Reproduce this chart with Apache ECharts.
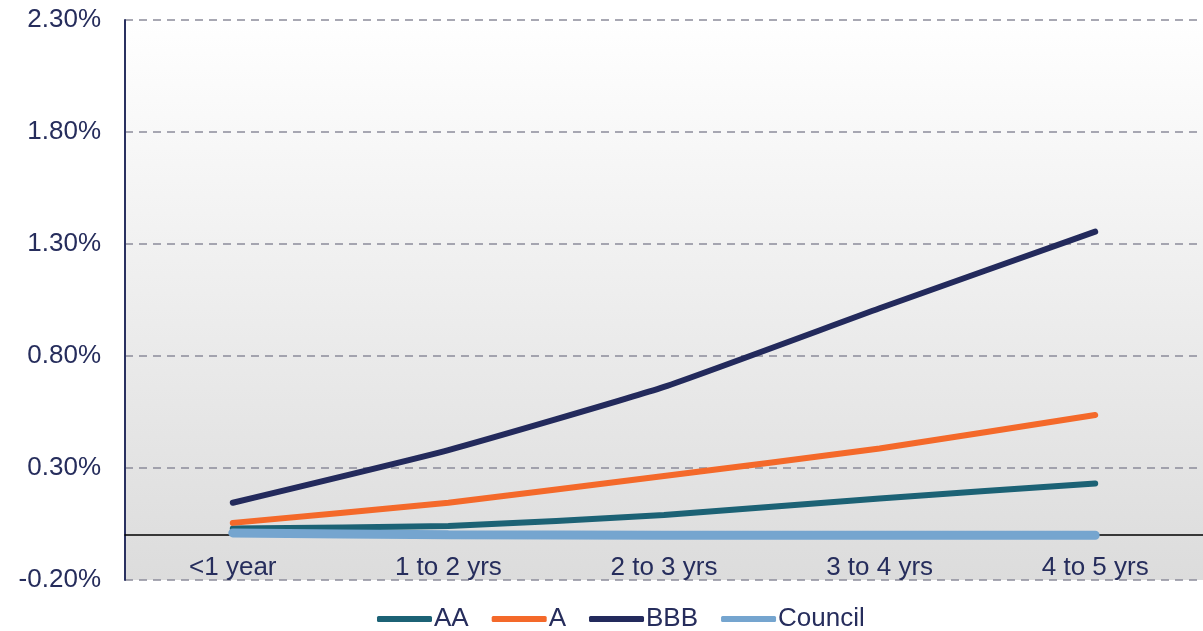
<!DOCTYPE html>
<html>
<head>
<meta charset="utf-8">
<script src="https://cdn.jsdelivr.net/npm/echarts@6/dist/echarts.min.js"></script>
<style>
  html, body { margin: 0; padding: 0; background: #fff; }
  #chart { width: 1203px; height: 631px; }
</style>
</head>
<body>
<div id="chart"></div>
<script>
const categories = ["<1 year", "1 to 2 yrs", "2 to 3 yrs", "3 to 4 yrs", "4 to 5 yrs"];
const aa = [0.03, 0.041, 0.09, 0.164, 0.231];
const a = [0.055, 0.145, 0.264, 0.387, 0.537];
const bbb = [0.145, 0.38, 0.662, 1.013, 1.355];
const council = [0.01, 0.002, 0.0, 0.0, 0.0];
const yTicks = [-0.2, 0.3, 0.8, 1.3, 1.8, 2.3];

const textColor = "#262d5c";
const font = "Liberation Sans, Arial, sans-serif";

const chart = echarts.init(document.getElementById("chart"));

function line(name, data, color, width) {
  return {
    name,
    type: "line",
    data,
    showSymbol: false,
    symbol: "none",
    smooth: 0.15,
    lineStyle: { color, width, cap: "round" },
    itemStyle: { color },
  };
}

chart.setOption({
  animation: false,
  textStyle: { fontFamily: font },
  grid: {
    left: 125,
    top: 20,
    width: 1090,
    bottom: 51,
    show: true,
    borderWidth: 0,
    backgroundColor: new echarts.graphic.LinearGradient(0, 0, 0, 1, [
      { offset: 0, color: "#ffffff" },
      { offset: 1, color: "#dcdcdc" },
    ]),
  },
  legend: {
    top: 601,
    left: 372,
    itemWidth: 55,
    itemHeight: 6,
    itemGap: 23,
    icon: "roundRect",
    textStyle: { fontSize: 26, color: textColor, fontFamily: font, padding: [0, 0, 0, -3] },
    data: ["AA", "A", "BBB", "Council"],
  },
  xAxis: {
    type: "category",
    data: categories,
    boundaryGap: true,
    axisLine: { onZero: true, lineStyle: { color: "#000", width: 1.5 } },
    axisTick: { show: false },
    axisLabel: { fontSize: 26, color: textColor, margin: -25, fontFamily: font },
    splitLine: { show: false },
  },
  yAxis: {
    type: "value",
    min: -0.2,
    max: 2.3,
    axisLine: { show: true, lineStyle: { color: "#2a3160", width: 2 } },
    axisTick: { show: false, customValues: yTicks },
    axisLabel: {
      customValues: yTicks,
      fontSize: 26,
      color: textColor,
      margin: 24,
      fontFamily: font,
      formatter: (v) => v.toFixed(2) + "%",
    },
    splitLine: { show: true, lineStyle: { color: "#8c8c9a", type: [8, 6], width: 1.5 } },
  },
  series: [
    line("AA", aa, "#1c6275", 6),
    line("A", a, "#f4692a", 6),
    line("BBB", bbb, "#232a5c", 6),
    line("Council", council, "#75a5cf", 9),
  ],
});
</script>
</body>
</html>
